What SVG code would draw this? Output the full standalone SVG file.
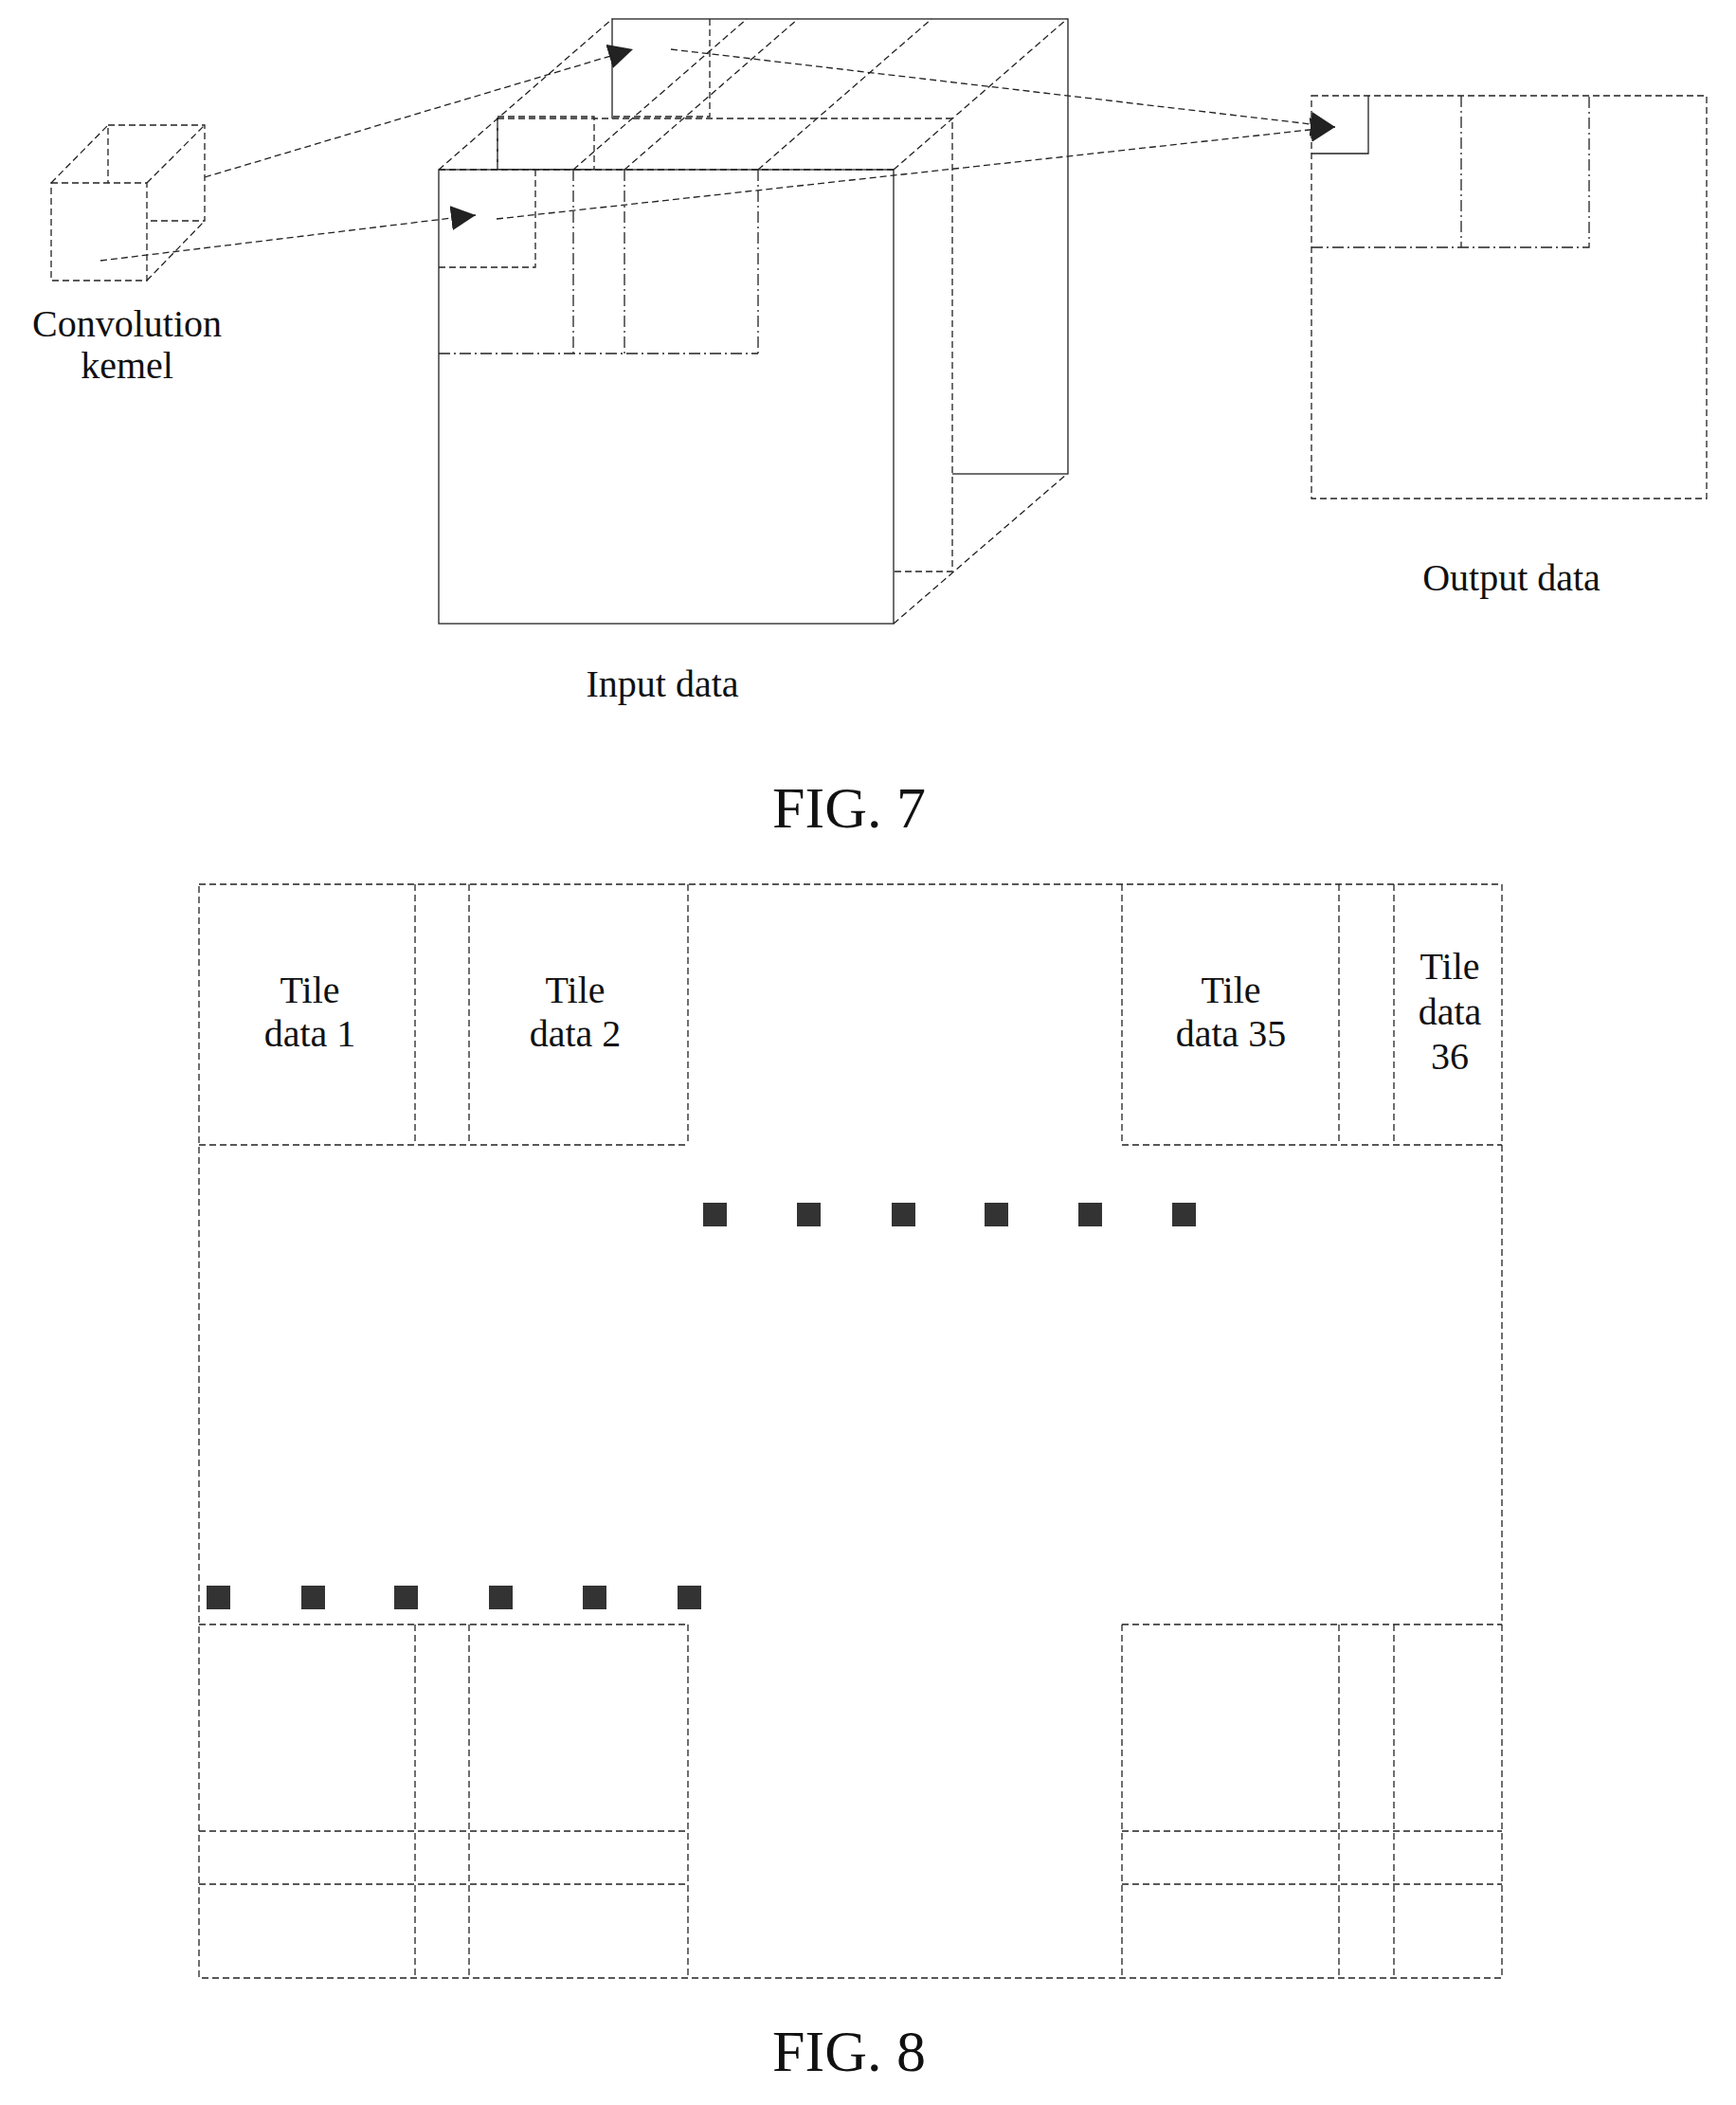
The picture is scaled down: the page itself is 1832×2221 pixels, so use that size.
<svg xmlns="http://www.w3.org/2000/svg" width="1832" height="2221" viewBox="0 0 1832 2221">
<style>
.d{fill:none;stroke:#222;stroke-width:1.3;stroke-dasharray:7 4}
.s{fill:none;stroke:#222;stroke-width:1.3}
.dd{fill:none;stroke:#222;stroke-width:1.3;stroke-dasharray:12 4 2 4}
.w{fill:#fff}
.t{font-family:"Liberation Serif",serif;font-size:40px;fill:#111;text-anchor:middle}
.f{font-family:"Liberation Serif",serif;font-size:62px;fill:#111;text-anchor:middle}
.sq{fill:#333}
</style>
<defs>
<marker id="ah" viewBox="0 0 10 10" refX="10" refY="5" markerWidth="26" markerHeight="26" markerUnits="userSpaceOnUse" orient="auto"><path d="M0,0 L10,5 L0,10 z" fill="#222"/></marker>
</defs>
<rect width="1832" height="2221" fill="#fff"/>
<g id="kernel">
<rect class="d" x="114" y="132" width="102" height="101"/>
<path class="d" d="M54,193 L114,132 M155,193 L216,132 M155,296 L216,233"/>
<rect class="d w" x="54" y="193" width="101" height="103" style="fill:#fff"/>
<text class="t" x="134" y="355">Convolution</text>
<text class="t" x="134" y="399">kemel</text>
</g>
<g id="input">
<rect class="s" x="646" y="20" width="481" height="480" style="fill:#fff"/>
<path class="d" d="M749,20 V123 H646"/>
<rect class="d" x="525" y="125" width="480" height="478" style="fill:#fff"/>
<rect class="d" x="525" y="123" width="102" height="56"/>
<path class="d" d="M463,179 L646,20 M605,179 L788,20 M659,179 L842,20 M800,179 L983,20 M943,179 L1126,20 M943,658 L1126,500"/>
<rect class="s" x="463" y="179" width="480" height="479" style="fill:#fff"/>
<path class="d" d="M463,179 H943"/>
<path class="d" d="M463,282 H565 V179"/>
<path class="dd" d="M605,179 V373 M659,179 V373 M800,179 V373 M463,373 H800"/>
<text class="t" x="699" y="735">Input data</text>
</g>
<g id="output">
<rect class="d" x="1384" y="101" width="417" height="425"/>
<path class="s" d="M1384,162 H1444 V101"/>
<path class="dd" d="M1384,261 H1677 V101 M1542,101 V261"/>
<text class="t" x="1595" y="623">Output data</text>
</g>
<g id="connectors">
<path class="d" d="M216,187 L668,52" marker-end="url(#ah)"/>
<path class="d" d="M106,275 L502,227" marker-end="url(#ah)"/>
<path class="d" d="M708,52 L1409,134" marker-end="url(#ah)"/>
<path class="d" d="M524,231 L1409,134" marker-end="url(#ah)"/>
</g>
<text class="f" x="896" y="873">FIG. 7</text>
<g id="fig8">
<rect class="d" x="210" y="933" width="1375" height="1154"/>
<path class="d" d="M438,933 V1208 M495,933 V1208 M726,933 V1208 M210,1208 H726 M1184,933 V1208 M1413,933 V1208 M1471,933 V1208 M1184,1208 H1585"/>
<path class="d" d="M210,1714 H726 M438,1714 V2087 M495,1714 V2087 M726,1714 V2087 M210,1932 H726 M210,1988 H726 M1184,1714 H1585 M1184,1714 V2087 M1413,1714 V2087 M1471,1714 V2087 M1184,1932 H1585 M1184,1988 H1585"/>
<text class="t" x="327" y="1058">Tile</text><text class="t" x="327" y="1104">data 1</text>
<text class="t" x="607" y="1058">Tile</text><text class="t" x="607" y="1104">data 2</text>
<text class="t" x="1299" y="1058">Tile</text><text class="t" x="1299" y="1104">data 35</text>
<text class="t" x="1530" y="1033">Tile</text><text class="t" x="1530" y="1081">data</text><text class="t" x="1530" y="1128">36</text>
<g class="sq">
<rect x="742" y="1269" width="25" height="25"/><rect x="841" y="1269" width="25" height="25"/><rect x="941" y="1269" width="25" height="25"/><rect x="1039" y="1269" width="25" height="25"/><rect x="1138" y="1269" width="25" height="25"/><rect x="1237" y="1269" width="25" height="25"/>
<rect x="218" y="1673" width="25" height="25"/><rect x="318" y="1673" width="25" height="25"/><rect x="416" y="1673" width="25" height="25"/><rect x="516" y="1673" width="25" height="25"/><rect x="615" y="1673" width="25" height="25"/><rect x="715" y="1673" width="25" height="25"/>
</g>
</g>
<text class="f" x="896" y="2185">FIG. 8</text>
</svg>
